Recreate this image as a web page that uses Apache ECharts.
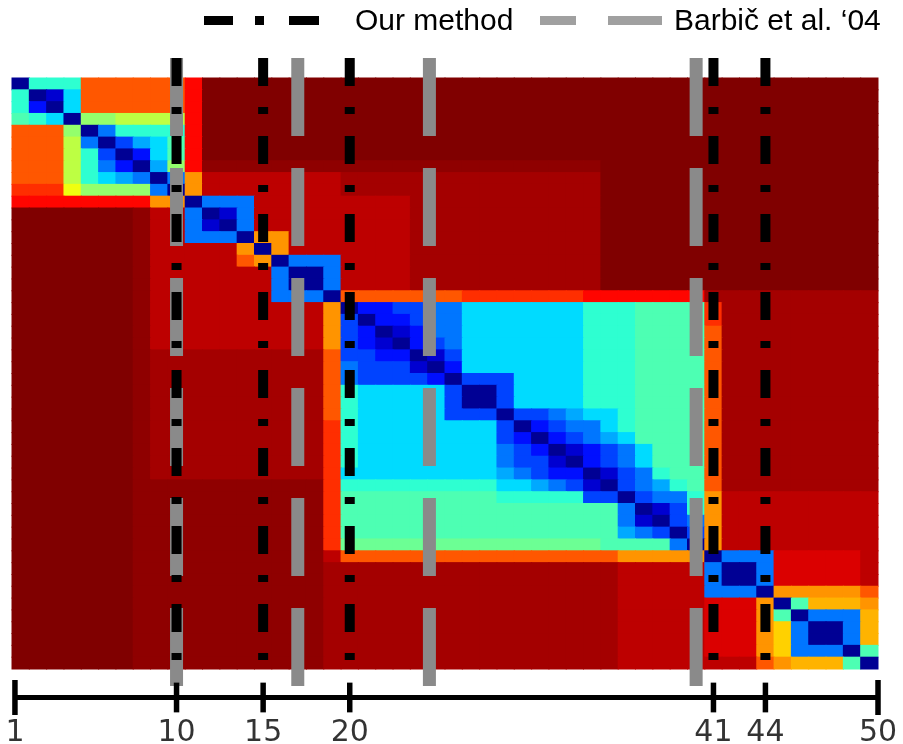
<!DOCTYPE html>
<html>
<head>
<meta charset="utf-8">
<script src="https://cdn.jsdelivr.net/npm/echarts@6/dist/echarts.min.js"></script>
<style>
  html, body { margin: 0; padding: 0; background: #fff; }
  #chart { width: 903px; height: 744px; }
</style>
</head>
<body>
<div id="chart"></div>
<script>
// self-similarity of the 50 frames, one run-length string per row
// (letter = colour level from `levels`, number after it = how many cells)
const rowRuns = [
  "N c3 o6 r K39",
  "c N n C o6 r K39",
  "c B N C o6 r K39",
  "A c C N g2 G4 r K39",
  "o3 g N Z c4 r K39",
  "o3 G Z N b z C A r K39",
  "o3 G c b N B C A r K39",
  "o3 G c Z B N z g r m23 K16",
  "o3 G c C z Z N Z O d8 M15 K16",
  "R3 Y g4 Z N O d8 M15 K16",
  "r8 O2 N Z3 d9 M11 K16",
  "K7 m d2 Z N n Z d9 M11 K16",
  "K7 m d2 Z n N Z d9 M11 K16",
  "K7 m d2 Z3 N O2 d7 M11 K16",
  "K7 m d5 O N O d7 M11 K16",
  "K7 m d5 o O N Z3 d4 M11 K16",
  "K7 m d7 Z N2 Z d4 M11 K16",
  "K7 m d7 Z N2 Z d4 M11 K16",
  "K7 m d7 Z3 N o7 R7 r7 M10",
  "K7 m d10 O N B2 b2 Z2 C7 c3 A4 R M9",
  "K7 m d10 O b N B2 b Z2 C7 c3 A4 R M9",
  "K7 m d10 O b B N n B Z2 C7 c3 A4 o M9",
  "K7 m d10 O b B n N B b Z C7 c3 A4 o M9",
  "K7 m M10 o b2 B2 N n b C7 c3 A4 o M9",
  "K7 m M10 o Z b3 n N B C7 c3 A4 o M9",
  "K7 m M10 o Z b4 B N b3 C4 c3 A4 o M9",
  "K7 m M10 o c C5 b N2 b C4 c3 A4 o M9",
  "K7 m M10 o c C5 b N2 b C4 c3 A4 o M9",
  "K7 m M10 o c C5 b3 N b2 Z z C2 c A4 o M9",
  "K7 m M10 R c C8 b N B b Z2 C c A4 o M9",
  "K7 m M10 R c C8 b B N B b Z z C A4 o M9",
  "K7 m M10 R c C8 Z b B N n B b Z C A3 o M9",
  "K7 m M10 R c C8 Z b b n N B b Z C A3 o M9",
  "K7 m M10 R C9 z Z b B2 N n b Z c A2 o M9",
  "K7 m11 R c9 C2 z Z b n N b Z z c A o M9",
  "K7 m11 R A9 c5 b2 N b Z2 c O d9",
  "K7 m11 R A16 Z N n b c O d9",
  "K7 m11 R A16 Z n N b Z O d9",
  "K7 m11 R A16 z Z b N b O d9",
  "K7 m11 R a15 A4 Z N O d9",
  "K7 m11 d o16 O5 N Z3 D5 d",
  "K7 m11 M17 d5 Z N2 Z D5 d",
  "K7 m11 M17 d5 Z N2 Z D5 d",
  "K7 m11 M17 d5 Z3 N O5 o",
  "K7 m11 M17 d5 D3 O N A Q3 O",
  "K7 m11 M17 d5 D3 O A N Z3 Q",
  "K7 m11 M17 d5 D3 O y Z N2 Z Q",
  "K7 m11 M17 d5 D3 O y Z N2 Z Q",
  "K7 m11 M17 d5 D3 O y Z3 N A",
  "K7 m11 M17 d5 d3 o O Q3 A N"
];

// distance level of each letter (0 = identical, 1 = far apart)
const levels = {
  N: 0.02, n: 0.08, B: 0.14, b: 0.19, Z: 0.24, z: 0.29, C: 0.34, c: 0.42,
  A: 0.45, a: 0.48, g: 0.52, G: 0.56, Y: 0.61, y: 0.67, Q: 0.70, O: 0.73,
  o: 0.79, R: 0.83, r: 0.87, D: 0.91, d: 0.94, M: 0.965, m: 0.985, K: 1.0
};

// segment boundaries (frame numbers)
const ourCuts = [10, 15, 20, 41, 44];
const barbicCuts = [10, 17, 24.6, 40];
const rulerTicks = [1, 10, 15, 20, 41, 44, 50];

const legendNames = ['Our method', 'Barbi\u010d et al. \u201804'];

function decodeRow(s) {
  const out = [];
  s.trim().split(/\s+/).forEach(function (tok) {
    const n = tok.length > 1 ? parseInt(tok.slice(1), 10) : 1;
    for (let i = 0; i < n; i++) out.push(levels[tok[0]]);
  });
  if (out.length !== rowRuns.length) console.warn('row length', out.length, s);
  return out;
}

const nFrames = rowRuns.length;
const frames = rowRuns.map(function (_, i) { return String(i + 1); });
const cells = [];
rowRuns.forEach(function (s, r) {
  decodeRow(s).forEach(function (v, c) { cells.push([c, r, v]); });
});

// frame number -> position in cell units along the frame axis (0 .. nFrames)
function framePos(f) { return f - 0.5; }

// one cell of the matrix, padded half a pixel so neighbours don't leave seams
function renderCell(params, api) {
  const p = api.coord([api.value(0), api.value(1)]);
  const s = api.size([1, 1]);
  return {
    type: 'rect',
    shape: { x: p[0] - s[0] / 2 - 0.5, y: p[1] - s[1] / 2 - 0.5, width: s[0] + 1, height: s[1] + 1 },
    style: { fill: api.visual('color') }
  };
}

function cutSeries(cuts, axisIdx, color, width, dash) {
  return cuts.map(function (f) {
    return {
      type: 'line',
      xAxisIndex: axisIdx,
      yAxisIndex: axisIdx,
      data: [[framePos(f), 1], [framePos(f), 0]],
      symbol: 'none',
      silent: true,
      clip: false,
      lineStyle: { color: color, width: width, type: dash, cap: 'butt' }
    };
  });
}

const tickPos = rulerTicks.map(function (f, i) {
  if (i === 0) return 0.17;
  if (i === rulerTicks.length - 1) return nFrames;
  return framePos(f);
});

const rulerSeries = [{
  type: 'line',
  xAxisIndex: 3,
  yAxisIndex: 3,
  data: [[tickPos[0], 0], [tickPos[tickPos.length - 1], 0]],
  symbol: 'none',
  silent: true,
  clip: false,
  lineStyle: { color: '#000', width: 5, cap: 'butt' }
}];
tickPos.forEach(function (p, i) {
  const h = (i === 0 || i === tickPos.length - 1) ? 1 : 0.85;
  rulerSeries.push({
    type: 'line',
    xAxisIndex: 3,
    yAxisIndex: 3,
    data: [[p, -h], [p, h]],
    symbol: 'none',
    silent: true,
    clip: false,
    lineStyle: { color: '#000', width: 5.5, cap: 'butt' }
  });
});
rulerSeries.push({
  type: 'scatter',
  xAxisIndex: 3,
  yAxisIndex: 3,
  data: tickPos.map(function (p, i) { return [p, -1, rulerTicks[i]]; }),
  symbolSize: 0,
  silent: true,
  clip: false,
  label: {
    show: true,
    position: 'bottom',
    distance: 3,
    formatter: function (d) { return d.value[2]; },
    fontFamily: 'DejaVu Sans',
    fontSize: 30,
    color: '#000'
  }
});

const chart = echarts.init(document.getElementById('chart'), null, { renderer: 'canvas' });

const hiddenVal = function (gi, min, max) {
  return { type: 'value', gridIndex: gi, min: min, max: max, show: false };
};

const legendFont = '30px "Liberation Sans", Arial, sans-serif';

const option = {
  animation: false,
  backgroundColor: '#fff',
  grid: [
    { left: 12, top: 78, width: 866, height: 591 },
    { left: 12, top: 58, width: 866, height: 629 },
    { left: 12, top: 58, width: 866, height: 611 },
    { left: 12, top: 680, width: 866, height: 35 }
  ],
  xAxis: [
    { type: 'category', gridIndex: 0, data: frames, show: false },
    hiddenVal(1, 0, nFrames),
    hiddenVal(2, 0, nFrames),
    hiddenVal(3, 0, nFrames)
  ],
  yAxis: [
    { type: 'category', gridIndex: 0, data: frames, inverse: true, show: false },
    hiddenVal(1, 0, 1),
    hiddenVal(2, 0, 1),
    hiddenVal(3, -1, 1)
  ],
  visualMap: {
    show: false,
    seriesIndex: 0,
    dimension: 2,
    min: 0,
    max: 1,
    inRange: {
      color: ['#000080', '#0000ff', '#0080ff', '#00ffff', '#80ff80',
              '#ffff00', '#ff8000', '#ff0000', '#800000']
    }
  },
  graphic: [
    { type: 'rect', shape: { x: 204, y: 16, width: 29, height: 9 }, style: { fill: '#000' } },
    { type: 'rect', shape: { x: 255, y: 16, width: 9, height: 9 }, style: { fill: '#000' } },
    { type: 'rect', shape: { x: 289, y: 16, width: 30, height: 9 }, style: { fill: '#000' } },
    { type: 'text', x: 355, y: 22, style: { text: legendNames[0], font: legendFont, fill: '#000', verticalAlign: 'middle' } },
    { type: 'rect', shape: { x: 540, y: 16, width: 36, height: 9 }, style: { fill: '#a0a0a0' } },
    { type: 'rect', shape: { x: 608, y: 16, width: 54, height: 9 }, style: { fill: '#a0a0a0' } },
    { type: 'text', x: 674, y: 22, style: { text: legendNames[1], font: legendFont, fill: '#000', verticalAlign: 'middle' } }
  ],
  series: [{
    type: 'custom',
    xAxisIndex: 0,
    yAxisIndex: 0,
    data: cells,
    encode: { x: 0, y: 1 },
    renderItem: renderCell,
    silent: true,
    progressive: 0
  }]
    .concat(cutSeries(barbicCuts, 1, '#8a8a8a', 13, [78, 32]))
    .concat(cutSeries(ourCuts, 2, '#000', 10, [28, 21, 7, 22]))
    .concat(rulerSeries)
};

chart.setOption(option);
</script>
</body>
</html>
